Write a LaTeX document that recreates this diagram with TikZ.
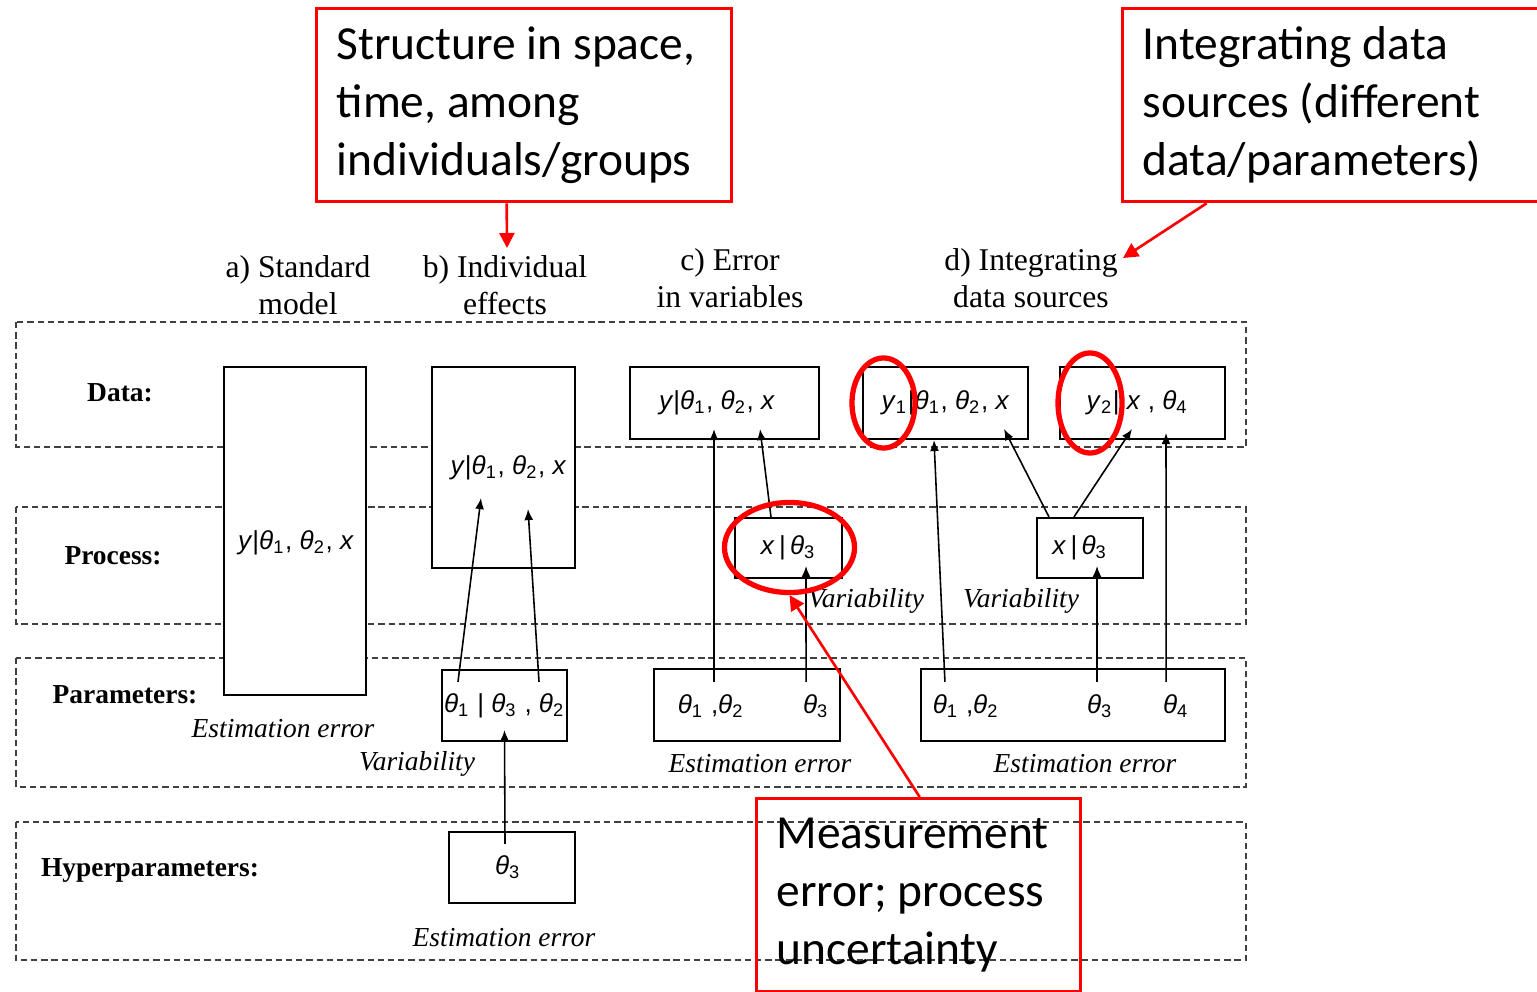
\documentclass[tikz,border=0pt]{standalone}
\usepackage{fontspec}
\setmainfont{Liberation Serif}
\newfontfamily\boxfont{Liberation Sans}
\newfontfamily\notefont{Carlito}
\usetikzlibrary{shapes,arrows.meta,positioning,calc}
\newcommand{\vth}[1]{\textit{θ}\textsubscript{#1}}
\newcommand{\vv}[1]{\textit{#1}}

\begin{document}
\begin{tikzpicture}[
        x=0.01cm, y=-0.01cm,
        band/.style={draw=black!75, line width=0.45pt, dash pattern=on 1.8pt off 1.1pt},
        modelbox/.style={draw, line width=0.6pt, fill=white, inner sep=0pt, font=\boxfont\fontsize{7.4}{9}\selectfont},
        mathtxt/.style={inner sep=0pt, font=\boxfont\fontsize{7.4}{9}\selectfont},
        rowlabel/.style={font=\fontsize{7.8}{10}\selectfont\bfseries},
        colhead/.style={align=center, font=\fontsize{9}{10.5}\selectfont},
        errnote/.style={font=\fontsize{7.8}{10}\selectfont\itshape},
        link/.style={-{Latex[length=0.11cm,width=0.09cm]}, line width=0.45pt},
        callout/.style={draw=red, line width=0.9pt, anchor=north west, align=flush left, inner xsep=0.2cm, inner ysep=0pt, font=\notefont\fontsize{13.5}{16.5}\selectfont},
        ring/.style={draw=red, line width=1.5pt, ellipse, inner sep=0pt},
        redlink/.style={draw=red, line width=0.75pt, -{Triangle[length=0.15cm,width=0.15cm]}}
    ]
    \useasboundingbox (0,0) rectangle (1537,991);

    \foreach \ya/\yb in {322/447, 507/624, 658/787, 822/960}
        \draw[band] (16,\ya) rectangle (1246,\yb);

    \node[rowlabel] (l-data) at (120,393) {Data:};
    \node[rowlabel] (l-proc) at (113,556) {Process:};
    \node[rowlabel] (l-par) at (125,695) {Parameters:};
    \node[rowlabel] (l-hyp) at (150,870) {Hyperparameters:};

    \node[colhead] (h-a) at (298,285) {a) Standard\\model};
    \node[colhead] (h-b) at (505,285) {b) Individual\\effects};
    \node[colhead] (h-c) at (730,278) {c) Error\\in variables};
    \node[colhead] (h-d) at (1031,278) {d) Integrating\\data sources};

    % a) standard model
    \node[modelbox, minimum width=1.42cm, minimum height=3.28cm] (a-box) at (295,531) {};
    \node[mathtxt] (a-txt) at (296,543) {\vv{y}|\vth1, \vth2, \vv{x}};
    \node[errnote] at (283,729) {Estimation error};

    % b) individual effects
    \node[modelbox, minimum width=1.43cm, minimum height=2.01cm] (b-box) at (503.5,467.5) {\hspace*{0.1cm}\vv{y}|\vth1, \vth2, \vv{x}};
    \node[modelbox, minimum width=1.25cm, minimum height=0.71cm] (b-par) at (504.5,705.5) {\vth1 | \vth3 , \vth2};
    \node[modelbox, minimum width=1.26cm, minimum height=0.71cm] (b-hyp) at (512,867.5) {\vth3\hspace*{0.08cm}};
    \node[errnote] at (417,764) {Variability};
    \node[errnote] at (504,938) {Estimation error};
    \draw[link] ([xshift=-0.465cm,yshift=-0.13cm]b-par.north) -- ([xshift=-0.225cm,yshift=0.71cm]b-box.south);
    \draw[link] ([xshift=0.345cm,yshift=-0.13cm]b-par.north) -- ([xshift=0.245cm,yshift=0.60cm]b-box.south);
    \draw[link] ([xshift=-0.07cm,yshift=-0.13cm]b-hyp.north) -- ([yshift=0.12cm]b-par.south);

    % c) error in variables
    \node[modelbox, minimum width=1.89cm, minimum height=0.72cm] (c-dat) at (724.5,403) {\vv{y}|\vth1, \vth2, \vv{x}\hspace*{0.15cm}};
    \node[modelbox, minimum width=1.07cm, minimum height=0.60cm] (c-proc) at (788.5,548) {\vv{x}\,|\,\vth3};
    \node[modelbox, minimum width=1.86cm, minimum height=0.72cm] (c-par) at (747,705) {};
    \node[mathtxt] (c-p12) at (711,706) {\vth1 ,\vth2};
    \node[mathtxt] (c-p3) at (816,706) {\vth3};
    \node[errnote] at (866,601) {Variability};
    \node[errnote] at (760,764) {Estimation error};
    \draw[link] ([xshift=-0.33cm,yshift=-0.14cm]c-par.north) -- ([xshift=-0.105cm,yshift=0.11cm]c-dat.south);
    \draw[link] ([xshift=-0.175cm]c-proc.north) -- ([xshift=0.355cm,yshift=0.11cm]c-dat.south);
    \draw[link] ([xshift=0.59cm,yshift=-0.14cm]c-par.north) -- ([xshift=0.175cm,yshift=0.13cm]c-proc.south);

    % d) integrating data sources
    \node[modelbox, minimum width=1.65cm, minimum height=0.72cm] (d-dat1) at (945.5,403) {\vv{y}\textsubscript{1}|\vth1, \vth2, \vv{x}};
    \node[modelbox, minimum width=1.65cm, minimum height=0.72cm] (d-dat2) at (1142.5,403) {\vv{y}\textsubscript{2}| \vv{x} , \vth4\hspace*{0.1cm}};
    \node[modelbox, minimum width=1.06cm, minimum height=0.60cm] (d-proc) at (1090,548) {\vv{x}\,|\,\vth3\hspace*{0.2cm}};
    \node[modelbox, minimum width=3.04cm, minimum height=0.72cm] (d-par) at (1073,705) {};
    \node[mathtxt] (d-p12) at (966,706) {\vth1 ,\vth2};
    \node[mathtxt] (d-p3) at (1100,706) {\vth3};
    \node[mathtxt] (d-p4) at (1176,706) {\vth4};
    \node[errnote] at (1021,601) {Variability};
    \node[errnote] at (1085,764) {Estimation error};
    \draw[link] ([xshift=-1.28cm,yshift=-0.14cm]d-par.north) -- ([xshift=-0.115cm]d-dat1.south);
    \draw[link] ([xshift=-0.41cm]d-proc.north) -- ([xshift=0.585cm,yshift=0.11cm]d-dat1.south);
    \draw[link] ([xshift=-0.16cm]d-proc.north) -- ([xshift=-0.105cm,yshift=0.11cm]d-dat2.south);
    \draw[link] ([xshift=0.24cm,yshift=-0.14cm]d-par.north) -- ([xshift=0.07cm,yshift=0.13cm]d-proc.south);
    \draw[link] ([xshift=0.93cm,yshift=-0.14cm]d-par.north) -- ([xshift=0.235cm,yshift=0.07cm]d-dat2.south);

    % red notes
    \node[ring, minimum width=1.30cm, minimum height=0.90cm] (ring-c) at (789.5,547.5) {};
    \node[ring, minimum width=0.63cm, minimum height=0.90cm] (ring-y1) at (883.5,403) {};
    \node[ring, minimum width=0.64cm, minimum height=1.00cm] (ring-y2) at (1090,403) {};

    \node[callout, minimum width=4.15cm, minimum height=1.93cm, text width=3.75cm] (call-a) at (315,7) {Structure in space,\\time, among\\individuals/groups};
    \node[callout, minimum width=4.24cm, minimum height=1.93cm, text width=3.84cm] (call-d) at (1121,7) {Integrating data\\sources (different\\data/parameters)};
    \node[callout, minimum width=3.24cm, minimum height=1.93cm, text width=2.84cm] (call-c) at (755,797) {Measurement\\error; process\\uncertainty};

    \coordinate (tip-b) at (507,248);
    \coordinate (tip-d) at (1123,258);
    \draw[redlink] ([xshift=-0.175cm]call-a.south) -- (tip-b);
    \draw[redlink] ([xshift=-1.28cm]call-d.south) -- (tip-d);
    \draw[redlink] ([xshift=0.01cm]call-c.north) -- (ring-c.south);
\end{tikzpicture}
\end{document}
